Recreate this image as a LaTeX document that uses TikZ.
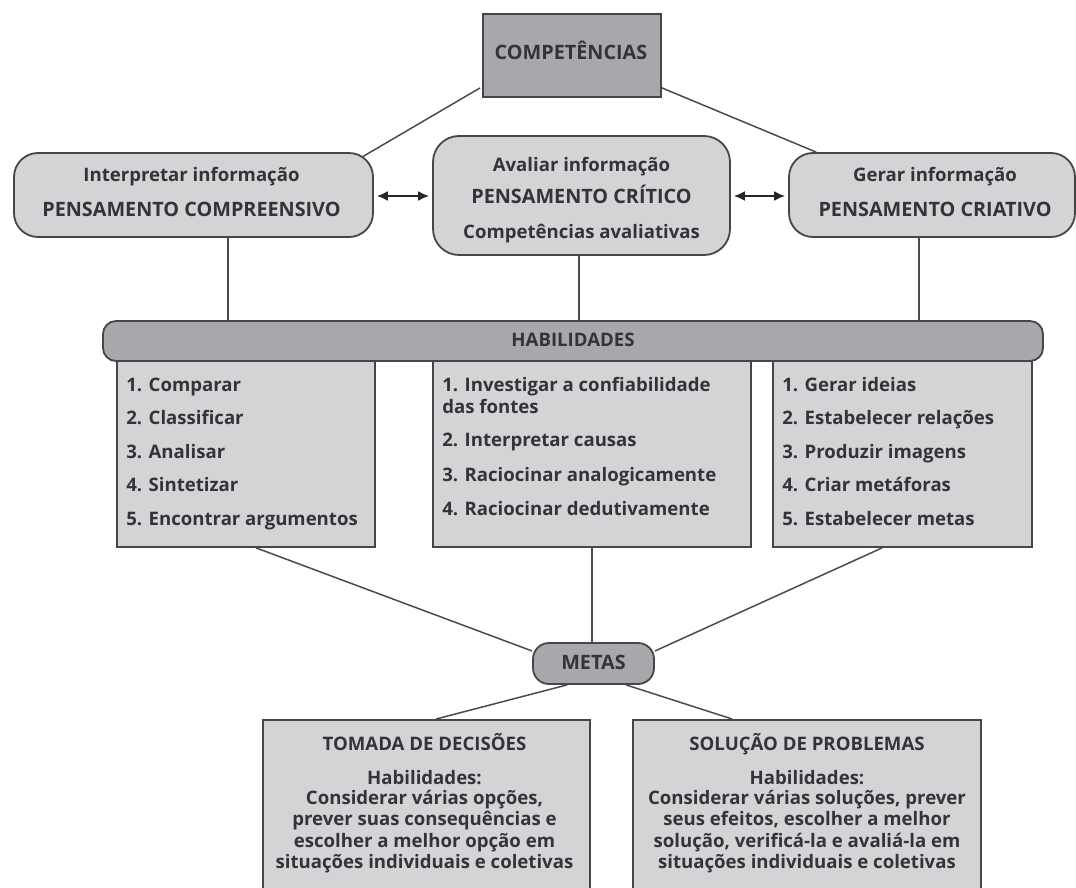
\documentclass[tikz,border=0pt]{standalone}
\usepackage{fontspec}
\setmainfont{Open Sans}
\usetikzlibrary{calc,arrows.meta}
\definecolor{darkfill}{RGB}{168,168,172}
\definecolor{lightfill}{RGB}{212,212,214}
\definecolor{bordc}{RGB}{70,70,72}
\definecolor{linec}{RGB}{75,75,75}
\definecolor{txt}{RGB}{52,52,56}
\tikzset{
  box/.style={draw=bordc, line width=1.8pt, inner sep=0pt},
  darkbox/.style={box, fill=darkfill},
  lightbox/.style={box, fill=lightfill},
  conn/.style={draw=linec, line width=1.5pt},
  biarrow/.style={conn, draw=black!85, line width=1.8pt, {Latex[length=11pt,width=10pt]}-{Latex[length=11pt,width=10pt]}, shorten <=3pt, shorten >=3pt},
  lbl/.style={text=txt, inner sep=0pt, font=\fontsize{18.6}{22}\selectfont\bfseries, anchor=base},
  caps/.style={lbl, font=\fontsize{19.8}{22}\selectfont\bfseries},
  item/.style={lbl, anchor=base west},
}
\begin{document}
\begin{tikzpicture}[x=1pt,y=-1pt]
\useasboundingbox (0,0) rectangle (1076,888);
\clip (0,0) rectangle (1076,888);

% boxes
\node[darkbox, minimum width=178pt, minimum height=83pt] (comp) at (572,55.5) {};
\node[lightbox, rounded corners=24pt, minimum width=359pt, minimum height=84pt] (interp) at (193.5,195) {};
\node[lightbox, rounded corners=26pt, minimum width=297pt, minimum height=119pt] (aval) at (581.5,195.5) {};
\node[lightbox, rounded corners=24pt, minimum width=286pt, minimum height=84pt] (gerar) at (932,195) {};
\node[lightbox, minimum width=258pt, minimum height=186pt] (l1) at (246,454) {};
\node[lightbox, minimum width=318pt, minimum height=186pt] (l2) at (592,454) {};
\node[lightbox, minimum width=259pt, minimum height=186pt] (l3) at (902.5,454) {};
\node[darkbox, rounded corners=13pt, minimum width=940pt, minimum height=40pt] (hab) at (573,341) {};
\node[darkbox, rounded corners=16pt, minimum width=121pt, minimum height=41pt] (metas) at (593.5,663.5) {};
\node[lightbox, minimum width=327pt, minimum height=190pt, anchor=north] (tomada) at (426.5,719) {};
\node[lightbox, minimum width=348pt, minimum height=190pt, anchor=north] (solucao) at (807,719) {};

% x positions of the vertical links
\coordinate (v1) at (228,0);
\coordinate (v2) at (579,0);
\coordinate (v3) at (919,0);

% connectors
\draw[conn] ($(comp.south west)+(-2,-10)$) -- ($(interp.north east)+(-12,5)$);
\draw[conn] ($(comp.south east)+(0,-10)$) -- ($(gerar.north west)+(28,0)$);
\draw[biarrow] (interp.east |- 0,196) -- (aval.west |- 0,196);
\draw[biarrow] (aval.east |- 0,196) -- (gerar.west |- 0,196);
\draw[conn] (interp.south -| v1) -- (hab.north -| v1);
\draw[conn] (aval.south -| v2) -- (hab.north -| v2);
\draw[conn] (gerar.south -| v3) -- (hab.north -| v3);
\draw[conn] ($(l1.south west)+(140,0)$) -- ($(metas.west)+(0,-12.5)$);
\draw[conn] (l2.south) -- (l2.south |- metas.north);
\draw[conn] ($(l3.south west)+(110,0)$) -- ($(metas.east)+(0,-12.5)$);
\draw[conn] ($(metas.south west)+(35,0)$) -- ($(tomada.north west)+(174,0)$);
\draw[conn] ($(metas.south west)+(94,0)$) -- ($(solucao.north west)+(100,0)$);

% texts
\node[caps] (tcomp) at ($(comp.north)+(-1,46)$) {COMPETÊNCIAS};
\node[lbl] (ti1) at ($(interp.north)+(-2,29)$) {Interpretar informação};
\node[caps] (ti2) at ($(interp.north)+(-2,64)$) {PENSAMENTO COMPREENSIVO};
\node[lbl] (ta1) at ($(aval.north)+(0,36)$) {Avaliar informação};
\node[caps] (ta2) at ($(aval.north)+(0,68)$) {PENSAMENTO CRÍTICO};
\node[lbl] (ta3) at ($(aval.north)+(0,103)$) {Competências avaliativas};
\node[lbl] (tg1) at ($(gerar.north)+(3,29)$) {Gerar informação};
\node[caps] (tg2) at ($(gerar.north)+(3,64)$) {PENSAMENTO CRIATIVO};
\node[lbl] (thab) at ($(hab.north)+(0,26)$) {HABILIDADES};
\node[caps] (tmetas) at ($(metas.north)+(0,27)$) {METAS};

\node[item] (a1) at ($(l1.north west)+(10,31)$) {1. Comparar};
\node[item] (a2) at ($(l1.north west)+(10,64.5)$) {2. Classificar};
\node[item] (a3) at ($(l1.north west)+(10,98)$) {3. Analisar};
\node[item] (a4) at ($(l1.north west)+(10,131.5)$) {4. Sintetizar};
\node[item] (a5) at ($(l1.north west)+(10,165)$) {5. Encontrar argumentos};

\node[item] (b1) at ($(l2.north west)+(10,31)$) {1. Investigar a confiabilidade};
\node[item] (b1b) at ($(l2.north west)+(10,53)$) {das fontes};
\node[item] (b2) at ($(l2.north west)+(10,86)$) {2. Interpretar causas};
\node[item] (b3) at ($(l2.north west)+(10,121)$) {3. Raciocinar analogicamente};
\node[item] (b4) at ($(l2.north west)+(10,155)$) {4. Raciocinar dedutivamente};

\node[item] (c1) at ($(l3.north west)+(10,31)$) {1. Gerar ideias};
\node[item] (c2) at ($(l3.north west)+(10,64.5)$) {2. Estabelecer relações};
\node[item] (c3) at ($(l3.north west)+(10,98)$) {3. Produzir imagens};
\node[item] (c4) at ($(l3.north west)+(10,131.5)$) {4. Criar metáforas};
\node[item] (c5) at ($(l3.north west)+(10,165)$) {5. Estabelecer metas};

\node[lbl] (d0) at ($(tomada.north)+(-2,31)$) {TOMADA DE DECISÕES};
\node[lbl] (d1) at ($(tomada.north)+(-2,65)$) {Habilidades:};
\node[lbl] (d2) at ($(tomada.north)+(-2,85)$) {Considerar várias opções,};
\node[lbl] (d3) at ($(tomada.north)+(-2,106.5)$) {prever suas consequências e};
\node[lbl] (d4) at ($(tomada.north)+(-2,128)$) {escolher a melhor opção em};
\node[lbl] (d5) at ($(tomada.north)+(-2,149.5)$) {situações individuais e coletivas};

\node[lbl] (e0) at ($(solucao.north)+(0,31)$) {SOLUÇÃO DE PROBLEMAS};
\node[lbl] (e1) at ($(solucao.north)+(0,65)$) {Habilidades:};
\node[lbl] (e2) at ($(solucao.north)+(0,85)$) {Considerar várias soluções, prever};
\node[lbl] (e3) at ($(solucao.north)+(0,106.5)$) {seus efeitos, escolher a melhor};
\node[lbl] (e4) at ($(solucao.north)+(0,128)$) {solução, verificá-la e avaliá-la em};
\node[lbl] (e5) at ($(solucao.north)+(0,149.5)$) {situações individuais e coletivas};
\end{tikzpicture}
\end{document}
